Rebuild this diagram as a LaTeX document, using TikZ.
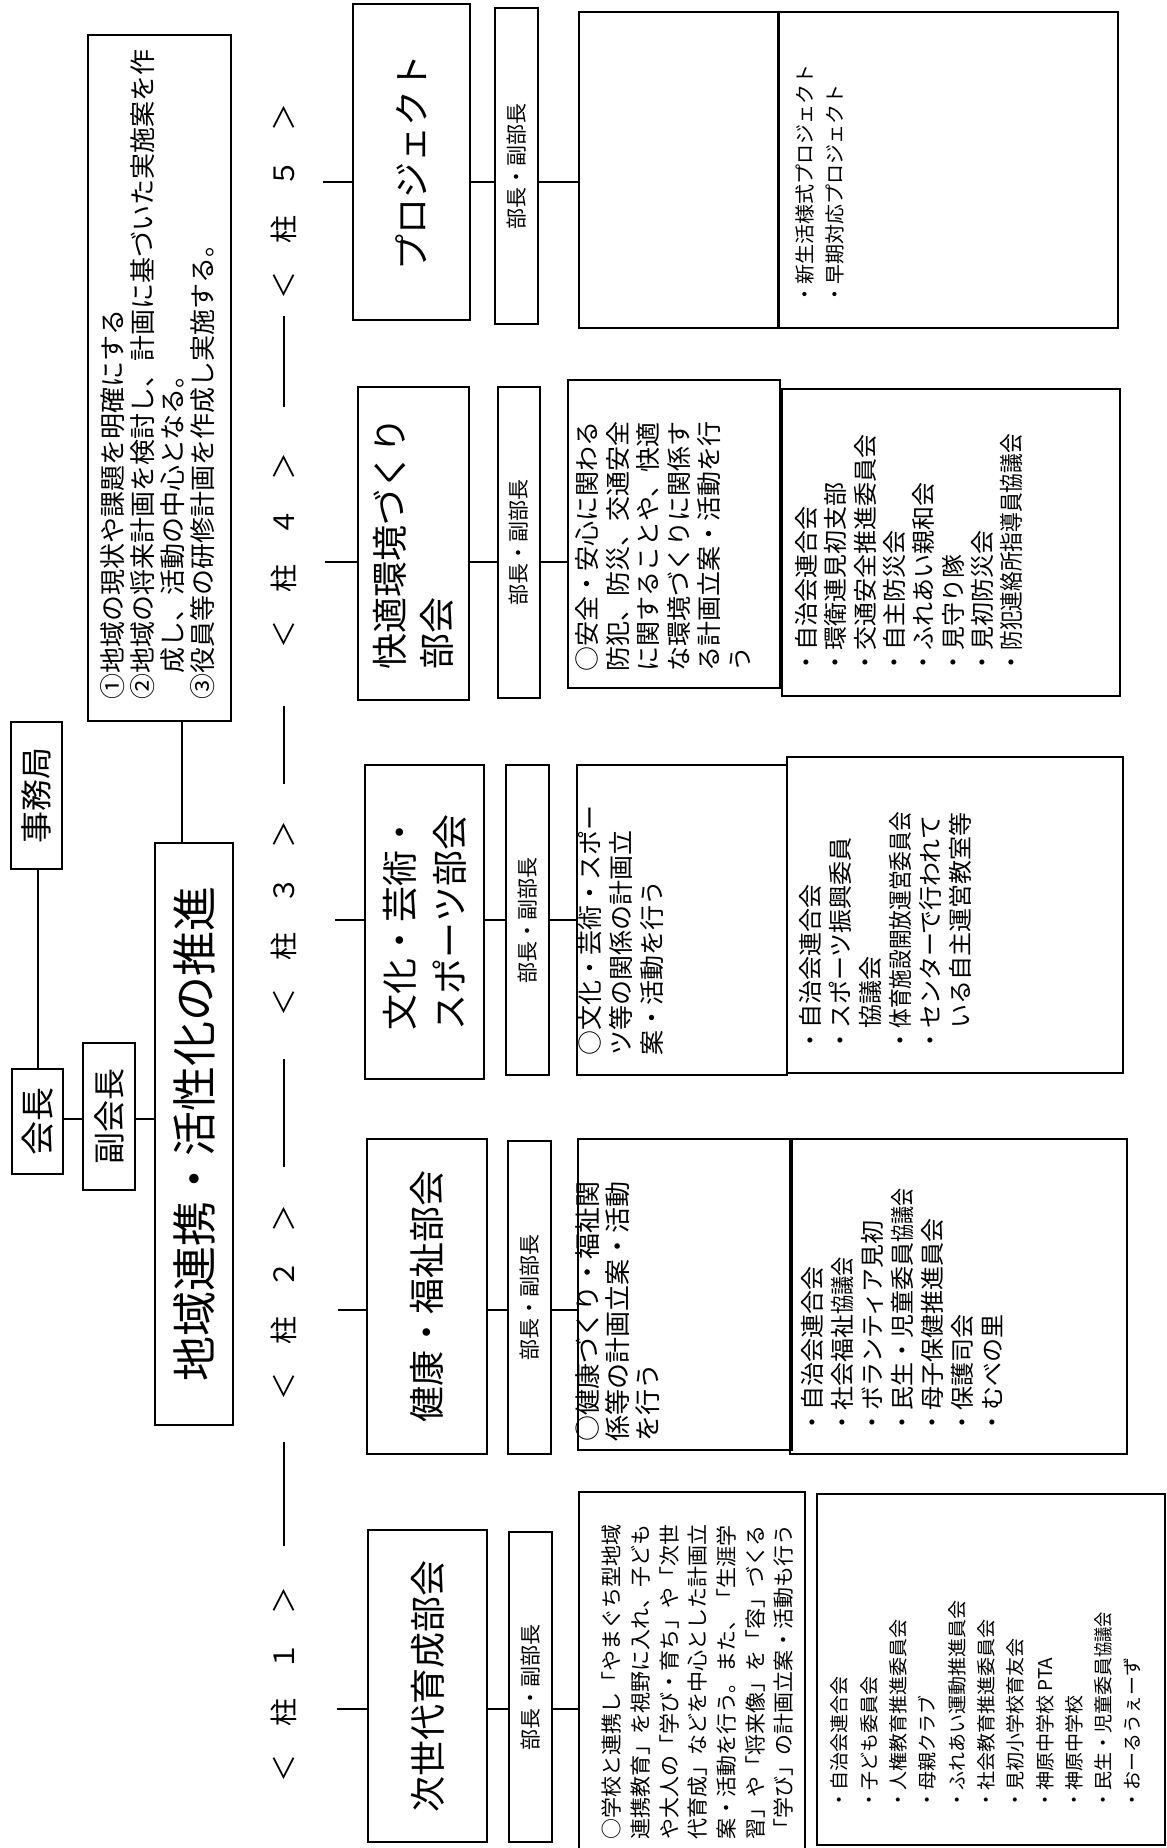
\documentclass[tikz,border=0pt]{standalone}
\usepackage{fontspec}
\usepackage{graphicx}
\newfontfamily\jp{Noto Sans CJK JP}
\newcommand{\jpsize}[2]{\fontsize{#1pt}{#2pt}\selectfont}
\newcommand{\obox}[7][]{%
  \pgfmathsetmacro\oboxw{(#6-#4)*0.5}%
  \pgfmathsetmacro\oboxh{(#5-#3)*0.5}%
  \node[bx, minimum width=\oboxw pt, minimum height=\oboxh pt, #1] (#2) at ({(#3+#5)/2},{(#4+#6)/2}) {#7};}
\begin{document}
\begin{tikzpicture}[x=0.5pt, y=-0.5pt,
  bx/.style={draw, line width=0.8pt, rotate=90, inner sep=0pt, align=left, font=\jp},
  lab/.style={rotate=90, inner sep=0pt, font=\jp\jpsize{14}{14}},
  txt/.style={rotate=90, inner sep=0pt, anchor=north west, align=left},
  conn/.style={line width=1pt}]
\useasboundingbox (0,0) rectangle (1167,1848);
\fill[white] (0,0) rectangle (1167,1848);

% header
\obox[font=\jp\jpsize{17}{20}]{kaicho}{12}{1069}{63}{1174}{会長}
\obox[font=\jp\jpsize{16}{20}]{fuku}{83}{1043}{135}{1190}{副会長}
\obox[font=\jp\jpsize{16}{20}]{jimu}{11}{722}{62}{869}{事務局}
\obox[font=\jp\jpsize{22.5}{26}]{main}{155}{843}{233}{1425}{地域連携・活性化の推進}
\obox{plan}{88}{35}{231}{721}{}
\node[txt, font=\jp\jpsize{13}{15}] (plantxt) at (100,700) {①地域の現状や課題を明確にする\\②地域の将来計画を検討し、計画に基づいた実施案を作\\\phantom{①}成し、活動の中心となる。\\③役員等の研修計画を作成し実施する。};

\draw[conn] (kaicho.east) -- (kaicho.east |- jimu.west);
\coordinate (hy) at (0,1119);
\draw[conn] (kaicho.south |- hy) -- (fuku.north |- hy);
\draw[conn] (fuku.south |- hy) -- (main.north |- hy);
\coordinate (vx) at (182,0);
\draw[conn] (vx |- plan.west) -- (vx |- main.east);

% pillars
\node[lab] (p5) at (284,201) {＜　柱　５　＞};
\node[lab] (p4) at (284,550) {＜　柱　４　＞};
\node[lab] (p3) at (284,918) {＜　柱　３　＞};
\node[lab] (p2) at (284,1302) {＜　柱　２　＞};
\node[lab] (p1) at (284,1684) {＜　柱　１　＞};
\draw[conn, shorten <=8.5pt, shorten >=22.5pt] (p5.west) -- (p4.east);
\draw[conn, shorten <=29pt, shorten >=18pt] (p4.west) -- (p3.east);
\draw[conn, shorten <=21.5pt, shorten >=18.5pt] (p3.west) -- (p2.east);
\draw[conn, shorten <=21pt, shorten >=20pt] (p2.west) -- (p1.east);

% row 5
\obox[font=\jp\jpsize{18}{24}]{d5}{353}{4}{470}{320}{プロジェクト}
\obox[font=\jp\jpsize{10.5}{12}]{b5}{495}{8}{538}{324}{部長・副部長}
\obox{t5}{579}{12}{779}{328}{}
\obox{l5}{778}{12}{1118}{328}{}
\node[txt, font=\jp\jpsize{10}{15}] (l5txt) at (795,305) {・新生活様式プロジェクト\\・早期対応プロジェクト};

% row 4
\obox[font=\jp\jpsize{18}{23.5}]{d4}{358}{387}{469}{700}{快適環境づくり\\部会}
\obox[font=\jp\jpsize{10.5}{12}]{b4}{498}{387}{540}{698}{部長・副部長}
\obox{t4}{568}{380}{780}{688}{}
\obox{l4}{782}{389}{1120}{696}{}
\node[txt, font=\jp\jpsize{12.5}{15.25}] (t4txt) at (575.5,672) {○安全・安心に関わる\\防犯、防災、交通安全\\に関することや、快適\\な環境づくりに関係す\\る計画立案・活動を行\\う};
\node[txt, font=\jp\jpsize{12}{14.65}] (l4txt) at (795,675) {・自治会連合会\\・環衛連見初支部\\・交通安全推進委員会\\・自主防災会\\・ふれあい親和会\\・見守り隊\\・見初防災会\\・\scalebox{0.82}[1]{防犯連絡所指導員協議会}};

% row 3
\obox[font=\jp\jpsize{18}{25}]{d3}{365}{765}{484}{1079}{文化・芸術・\\スポーツ部会}
\obox[font=\jp\jpsize{10.5}{12}]{b3}{506}{765}{549}{1075}{部長・副部長}
\obox{t3}{577}{765}{787}{1075}{}
\obox{l3}{787}{757}{1123}{1073}{}
\node[txt, font=\jp\jpsize{12.5}{15.5}] (t3txt) at (577.5,1056) {○文化・芸術・スポー\\ツ等の関係の計画立\\案・活動を行う};
\node[txt, font=\jp\jpsize{12}{15}] (l3txt) at (799,1053) {・自治会連合会\\・スポーツ振興委員\\\phantom{・}協議会\\・\scalebox{0.82}[1]{体育施設開放運営委員会}\\・センターで行われて\\\phantom{・}いる自主運営教室等};

% row 2
\obox[font=\jp\jpsize{18}{24}]{d2}{367}{1139}{487}{1454}{健康・福祉部会}
\obox[font=\jp\jpsize{10.5}{12}]{b2}{508}{1141}{551}{1454}{部長・副部長}
\obox{t2}{578}{1139}{792}{1450}{}
\obox{l2}{790}{1139}{1127}{1454}{}
\node[txt, font=\jp\jpsize{13}{15}] (t2txt) at (575,1442) {○健康づくり・福祉関\\係等の計画立案・活動\\を行う};
\node[txt, font=\jp\jpsize{12}{15}] (l2txt) at (801,1435) {・自治会連合会\\・社会福祉\scalebox{0.8}[1]{協議会}\\・ボランティア見初\\・民生・児童委員\scalebox{0.75}[1]{協議会}\\・母子保健推進員会\\・保護司会\\・むべの里};

% row 1
\obox[font=\jp\jpsize{18}{24}]{d1}{368}{1530}{487}{1842}{次世代育成部会}
\obox[font=\jp\jpsize{10.5}{12}]{b1}{509}{1532}{552}{1842}{部長・副部長}
\obox{t1}{579}{1492}{805}{1856}{}
\obox{l1}{817}{1494}{1165}{1845}{}
\node[txt, font=\jp\jpsize{10.5}{14.35}] (t1txt) at (601.5,1840) {○学校と連携し「やまぐち型地域\\連携教育」を視野に入れ、子ども\\や大人の「学び・育ち」や「次世\\代育成」などを中心とした計画立\\案・活動を行う。また、「生涯学\\習」や「将来像」を「容」づくる\\「学び」の計画立案・活動も行う};
\node[txt, font=\jp\jpsize{9.5}{14.65}] (l1txt) at (830.5,1810) {・自治会連合会\\・子ども委員会\\・人権教育推進委員会\\・母親クラブ\\・ふれあい運動推進員会\\・社会教育推進委員会\\・見初小学校育友会\\・神原中学校 PTA\\・神原中学校\\・民生・児童委員\scalebox{0.8}[1]{協議会}\\・おーるうぇーず};

% row connectors
\coordinate (r5) at (323,182);
\coordinate (r4) at (325,562);
\coordinate (r3) at (335,920);
\coordinate (r2) at (338,1310);
\coordinate (r1) at (337,1709);
\foreach \i in {1,...,5}{
  \draw[conn] (r\i) -- (d\i.north |- r\i);
  \draw[conn] (d\i.south |- r\i) -- (b\i.north |- r\i);
  \draw[conn] (b\i.south |- r\i) -- (t\i.north |- r\i);
}
\end{tikzpicture}
\end{document}
